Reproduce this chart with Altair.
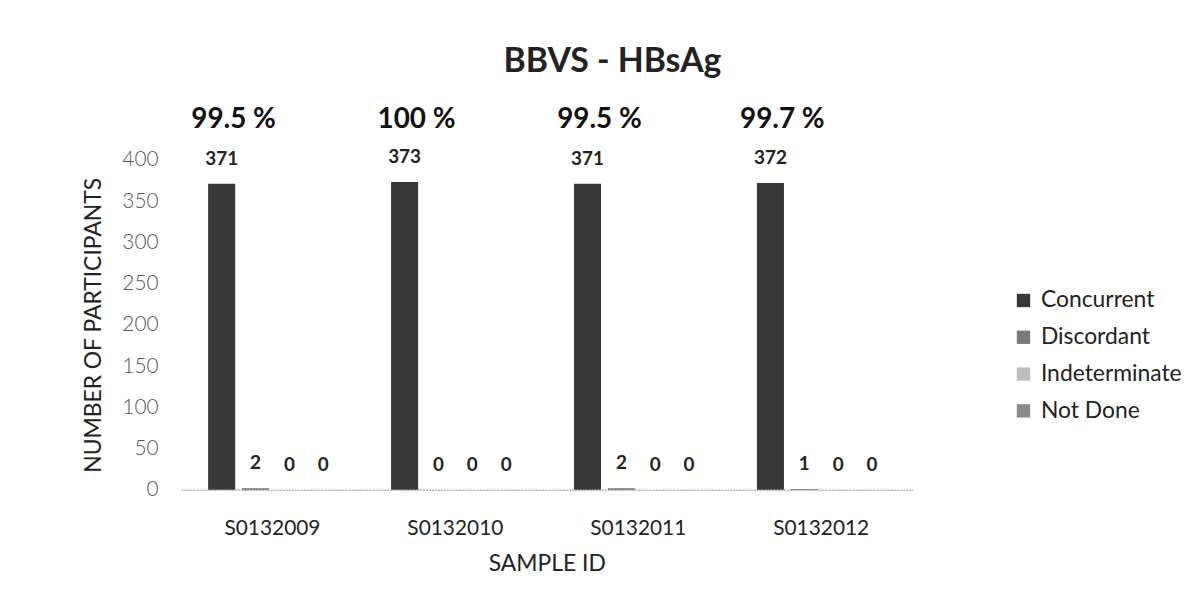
import altair as alt
import pandas as pd

samples = ["S0132009", "S0132010", "S0132011", "S0132012"]
series = ["Concurrent", "Discordant", "Indeterminate", "Not Done"]
concurrent = [371, 373, 371, 372]
discordant = [2, 0, 2, 1]
indeterminate = [0, 0, 0, 0]
not_done = [0, 0, 0, 0]
percent_labels = ["99.5 %", "100 %", "99.5 %", "99.7 %"]
colors = ["#383838", "#7a7a7a", "#bdbdbd", "#8a8a8a"]

rows = []
for i, s in enumerate(samples):
    for name, vals in zip(series, [concurrent, discordant, indeterminate, not_done]):
        rows.append({"sample": s, "series": name, "value": vals[i]})
df = pd.DataFrame(rows)
pct = pd.DataFrame({"sample": samples, "series": ["Concurrent"] * 4, "pct": percent_labels})

FONT = "Lato"

x_enc = alt.X("sample:N", sort=samples,
              scale=alt.Scale(paddingInner=0.26, paddingOuter=0.13),
              axis=alt.Axis(title="SAMPLE ID", labelAngle=0, labelFontSize=21, labelColor="#222",
                            labelPadding=28, titleFontSize=23, titleFontWeight="normal",
                            titleColor="#222", titlePadding=14, ticks=False,
                            domainColor="#b5b5b5", domainDash=[2, 1], domainWidth=1.5))
xo_enc = alt.XOffset("series:N", sort=series, scale=alt.Scale(paddingInner=0.2, paddingOuter=0.1))

bars = alt.Chart(df).mark_bar().encode(
    x=x_enc,
    xOffset=xo_enc,
    y=alt.Y("value:Q", scale=alt.Scale(domain=[0, 400]),
            axis=alt.Axis(title="NUMBER OF PARTICIPANTS", values=list(range(0, 401, 50)),
                          grid=False, domain=False, ticks=False, labelFontSize=21,
                          labelColor="#555", labelFontWeight=300, labelPadding=23, titleFontSize=23,
                          titleFontWeight="normal", titleColor="#222", titlePadding=16)),
    color=alt.Color("series:N", sort=series,
                    scale=alt.Scale(domain=series, range=colors),
                    legend=alt.Legend(title=None, orient="none", legendX=836, legendY=130,
                                      symbolType="square", symbolSize=180, labelFontSize=23,
                                      labelColor="#222", rowPadding=13, labelOffset=6,
                                      symbolStrokeWidth=0)),
)

value_text = alt.Chart(df).mark_text(fontSize=19, fontWeight="bold", color="#222",
                                     baseline="middle", dy=-25).encode(
    x=alt.X("sample:N", sort=samples),
    xOffset=alt.XOffset("series:N", sort=series),
    y="value:Q",
    text="value:Q",
)

pct_text = alt.Chart(pct).mark_text(fontSize=28, fontWeight="bold", color="#111",
                                    baseline="middle", dx=12).encode(
    x=alt.X("sample:N", sort=samples),
    xOffset=alt.XOffset("series:N", sort=series),
    y=alt.value(-40),
    text="pct:N",
)

chart = alt.layer(bars, value_text, pct_text).properties(
    width=736, height=332,
    padding={"left": 75, "top": 36, "right": 10, "bottom": 10},
    title=alt.TitleParams("BBVS - HBsAg", fontSize=34, fontWeight="bold", color="#222",
                          font=FONT, anchor="middle", offset=27, dx=66),
).configure(font=FONT).configure_view(stroke=None)

chart.save("out.html", embed_options={"renderer": "svg", "actions": False})
